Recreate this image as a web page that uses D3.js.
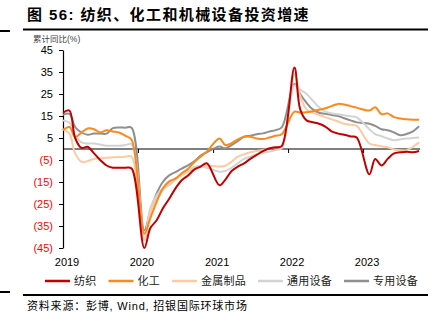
<!DOCTYPE html>
<html>
<head>
<meta charset="utf-8">
<script src="https://cdn.jsdelivr.net/npm/d3@7"></script>
<style>
  body { margin: 0; background: #fff; }
  svg { font-family: 'Liberation Sans', Arial, 'Noto Sans CJK SC', sans-serif; }
</style>
</head>
<body>
<div id="chart"><svg width="441" height="332"></svg></div>
<script>
// monthly cumulative yoy readings (no January release after 2019)
const months = [
  '2019-01', '2019-02', '2019-03', '2019-04', '2019-05', '2019-06',
  '2019-07', '2019-08', '2019-09', '2019-10', '2019-11', '2019-12',
  '2020-02', '2020-03', '2020-04', '2020-05', '2020-06', '2020-07',
  '2020-08', '2020-09', '2020-10', '2020-11', '2020-12',
  '2021-02', '2021-03', '2021-04', '2021-05', '2021-06', '2021-07',
  '2021-08', '2021-09', '2021-10', '2021-11', '2021-12',
  '2022-02', '2022-03', '2022-04', '2022-05', '2022-06', '2022-07',
  '2022-08', '2022-09', '2022-10', '2022-11', '2022-12',
  '2023-02', '2023-03', '2023-04', '2023-05', '2023-06', '2023-07',
  '2023-08', '2023-09', '2023-10'
]

const textile = [
  16.5, 17.5, 5, 0.5, 1, -2, -5, -7.5, -8.5, -8.5, -8.5, -8.9,
  -45, -36, -32.4, -27, -22.6, -18, -14.2, -12, -9.4, -8, -6.5,
  -16.5, -14, -10, -8, -6.5, -4.5, -2.7, -1, 0.2, 0.8, 1.3,
  37, 18, 13, 12.2, 11.5, 10.2, 8, 7, 6.5, 5.7, 5.2,
  -11.5, -4.5, -7.5, -4.5, -2, -1.5, -1.2, -1.5, -0.9
]
const chemical = [
  8.5, 10, 5.5, 7.5, 9.3, 9, 7.5, 8.5, 8, 7.5, 6, 4.2,
  -38.5, -31.5, -24, -18, -14.7, -13.5, -11, -9, -6, -3.5, -1.2,
  4.8, 1.8, 2.6, 4.4, 5.6, 5.6, 4.8, 4.5, 5.2, 6, 6.7,
  17, 16.5, 16.7, 17.2, 17.8, 18.5, 19.5, 20.5, 20.2, 19.5, 18.8,
  17.5, 19, 15.8, 16.2, 14.5, 13.9, 13.5, 13.3, 13.3
]
const metalProducts = [
  9, 7, -2, -5.8, -5.5, -4.5, -4.2, -4, -3.8, -3.6, -3.5, -3.5,
  -41.5, -28.6, -22.5, -18.6, -15.6, -13.6, -12, -10.3, -8.8, -8, -7.5,
  -8, -7.6, -5.8, -3.5, -2.4, -1.5, -0.9, -0.5, 0.3, 0.8, 1.1,
  34, 24, 18, 16.5, 15.5, 14.5, 13.5, 12.5, 11.5, 11, 10.5,
  2.5, 1.8, 1.2, 0.8, -0.2, -0.6, -0.5, 1, 3
]
const generalEquip = [
  13, 12, 6, 3, 2.5, 2.5, 2, 1.5, 1.5, 1.5, 1.8, 2.2,
  -40.8, -27, -21, -18, -16.5, -14, -12, -9.8, -8.2, -7.7, -8.5,
  -10.3, -10, -8.5, -6.5, -4.5, -3.5, -2.4, -1.7, -1.2, -0.5, 0.3,
  29, 27, 25, 22, 19, 17, 16.2, 15.8, 15.3, 14.9, 14.4,
  9, 6.8, 5.8, 4.8, 4, 4.4, 4.8, 5, 5.2
]
const specialEquip = [
  15.5, 16, 10, 7.5, 6.5, 7, 7, 7, 9.5, 9.8, 9.7, 9.7,
  -37, -28, -20.2, -15, -12, -10.5, -8.9, -7.4, -5.6, -3, -1.5,
  1.1, 0.3, 1.8, 3.6, 5.6, 6, 6.7, 7.1, 7.9, 8.6, 9.8,
  29.5, 25, 21, 18, 16.5, 16, 15.5, 15, 14, 13, 12.1,
  11.5, 10.5, 9, 8.5, 7.5, 6.3, 6.8, 8, 10.3
]

const seriesNames = ['纺织', '化工', '金属制品', '通用设备', '专用设备']
const seriesColors = ['#C00000', '#F98A1E', '#FBCBA5', '#D3D3D3', '#8F8F8F']
const yTicks = [45, 35, 25, 15, 5, -5, -15, -25, -35, -45]
const yearLabels = ['2019', '2020', '2021', '2022', '2023']

const width = 375
const height = 198
const parseMonth = d3.timeParse('%Y-%m')
const dates = months.map(parseMonth)

const svg = d3.select('#chart').select('svg')

/**
 * Draws the title, the rules around the chart and the source line.
 */
function drawFrame () {
  svg.append('text')
    .attr('x', 27)
    .attr('y', 20)
    .attr('font-size', 15)
    .attr('font-weight', 'bold')
    .attr('letter-spacing', 1.4)
    .attr('font-family', "'Liberation Sans', 'Noto Sans CJK SC', sans-serif")
    .text('图 56: 纺织、化工和机械设备投资增速')

  const rules = [[23, 428, 29.5], [0, 10, 31], [23, 428, 295], [0, 10, 292]]
  rules.forEach(r => {
    svg.append('line')
      .attr('x1', r[0]).attr('x2', r[1])
      .attr('y1', r[2]).attr('y2', r[2])
      .attr('stroke', '#000')
      .attr('stroke-width', 2)
  })

  svg.append('text')
    .attr('x', 27)
    .attr('y', 310)
    .attr('font-size', 11)
    .attr('letter-spacing', 0.8)
    .text('资料来源：彭博, Wind, 招银国际环球市场')

  svg.append('text')
    .attr('x', 33)
    .attr('y', 42)
    .attr('font-size', 8.5)
    .attr('fill', '#444')
    .text('累计同比(%)')
}

/**
 * Draws axes and the five lines inside the plot area.
 */
function drawChart () {
  const g = svg.append('g').attr('transform', 'translate(63,50)')

  const x = d3.scaleTime()
    .domain([new Date(2019, 0, 1), new Date(2024, 0, 1)])
    .range([0, width])
  const y = d3.scaleLinear().domain([-45, 45]).range([height, 0])

  const yAxis = g.append('g')
    .call(d3.axisLeft(y)
      .tickValues(yTicks)
      .tickSize(4)
      .tickSizeOuter(0)
      .tickPadding(6)
      .tickFormat(d => d < 0 ? '(' + (-d) + ')' : d))
  yAxis.selectAll('text')
    .attr('font-size', 11)
    .attr('font-family', "'Liberation Sans', Arial, sans-serif")
    .attr('fill', d => d < 0 ? '#FF0000' : '#000')
  yAxis.select('.domain').attr('stroke-width', 1.2)

  const yearDates = yearLabels.map(d => new Date(+d, 0, 1))
  const lastDate = dates[dates.length - 1]

  // zero line with year ticks hanging below it
  const zero = g.append('g').attr('transform', 'translate(0,' + y(0) + ')')
  zero.call(d3.axisBottom(x).tickValues(yearDates).tickSize(4).tickFormat(''))
  zero.select('.domain').remove()
  zero.append('line')
    .attr('x1', 0).attr('x2', x(lastDate) + 1)
    .attr('stroke', '#000').attr('stroke-width', 1.2)

  const labels = g.append('g').attr('transform', 'translate(3.5,' + (height + 7) + ')')
  labels.call(d3.axisBottom(x).tickValues(yearDates).tickSize(0).tickFormat(d3.timeFormat('%Y')))
  labels.select('.domain').remove()
  labels.selectAll('text')
    .attr('font-size', 11)
    .attr('font-family', "'Liberation Sans', Arial, sans-serif")
    .attr('fill', '#000')

  const allValues = [textile, chemical, metalProducts, generalEquip, specialEquip]
  const series = allValues.map((vals, i) => ({
    name: seriesNames[i],
    color: seriesColors[i],
    points: vals.map((v, j) => ({ date: dates[j], value: v }))
  }))

  const line = d3.line()
    .x(d => x(d.date))
    .y(d => y(d.value))
    .curve(d3.curveCatmullRom.alpha(0.5))

  g.selectAll('.series')
    .data(series.slice().reverse())
    .enter()
    .append('path')
    .attr('class', 'series')
    .attr('d', d => line(d.points))
    .attr('fill', 'none')
    .attr('stroke', d => d.color)
    .attr('stroke-width', 2)
    .attr('stroke-linejoin', 'round')

  return series
}

/**
 * Lays the legend out in one row under the year labels.
 *
 * @param {Array} series The series with their names and colours
 */
function drawLegend (series) {
  const legend = svg.append('g').attr('transform', 'translate(45,281)')
  let offset = 0
  series.forEach(s => {
    const item = legend.append('g').attr('transform', 'translate(' + offset + ',0)')
    item.append('line')
      .attr('x1', 0).attr('x2', 25)
      .attr('stroke', s.color)
      .attr('stroke-width', 2.5)
    const t = item.append('text')
      .attr('x', 29)
      .attr('y', 4)
      .attr('font-size', 11)
      .attr('letter-spacing', 0.25)
      .attr('fill', '#222')
      .text(s.name)
    offset += 29 + t.node().getComputedTextLength() + 12
  })
}

drawFrame()
const series = drawChart()
drawLegend(series)
</script>
</body>
</html>
